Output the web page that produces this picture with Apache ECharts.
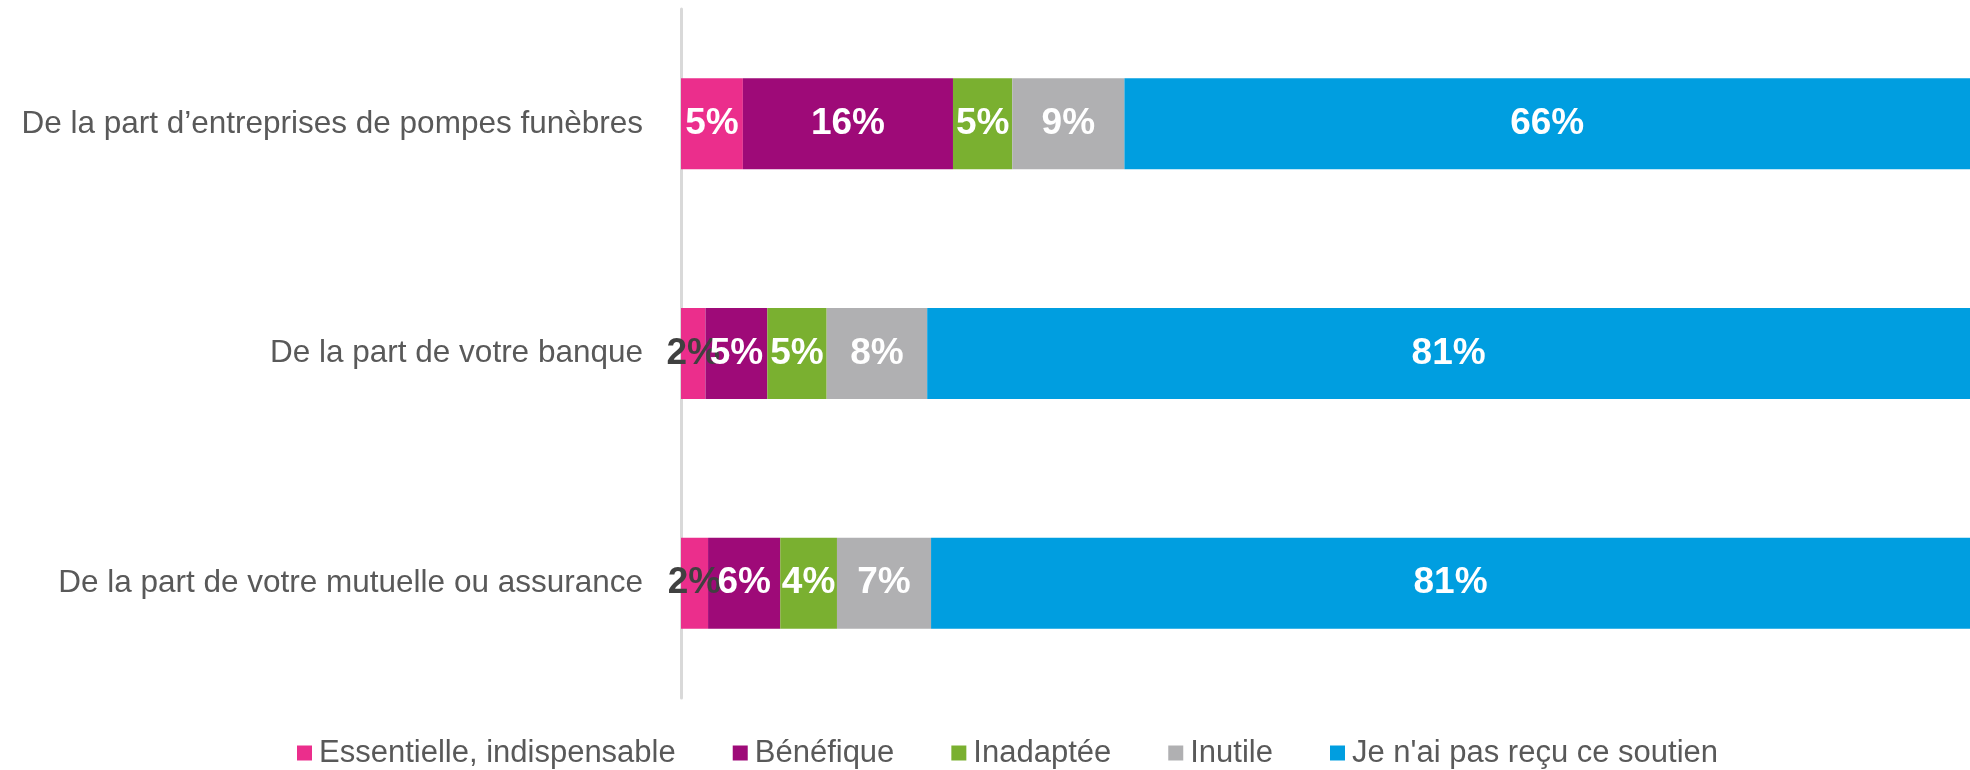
<!DOCTYPE html>
<html>
<head>
<meta charset="utf-8">
<script src="https://cdn.jsdelivr.net/npm/echarts@6/dist/echarts.min.js"></script>
<style>
  html, body { margin: 0; padding: 0; background: #fff; }
  #chart { width: 1970px; height: 770px; }
</style>
</head>
<body>
<div id="chart"></div>
<script>
const categories = [
  'De la part d\u2019entreprises de pompes fun\u00e8bres',
  'De la part de votre banque',
  'De la part de votre mutuelle ou assurance'
]
const seriesNames = ['Essentielle, indispensable', 'B\u00e9n\u00e9fique', 'Inadapt\u00e9e', 'Inutile', 'Je n\'ai pas re\u00e7u ce soutien']
const essentielle = [4.8, 1.9, 2.1]
const benefique = [16.3, 4.8, 5.6]
const inadaptee = [4.6, 4.6, 4.4]
const inutile = [8.7, 7.8, 7.3]
const pasRecu = [65.6, 80.9, 80.6]
const colors = ['#EB2E8C', '#9E0A78', '#7AB030', '#B0B0B2', '#009EE0']

const font = '"Liberation Sans", Arial, sans-serif'

function makeSeries (name, values, color) {
  return {
    name: name,
    type: 'bar',
    stack: 'total',
    barWidth: 91,
    itemStyle: { color: color },
    label: {
      show: true,
      position: 'inside',
      color: '#fff',
      fontFamily: font,
      fontWeight: 'bold',
      fontSize: 37,
      formatter: p => Math.round(p.value) + '%'
    },
    data: values.map(v => v < 3 ? { value: v, label: { color: '#404040' } } : v)
  }
}

const chart = echarts.init(document.getElementById('chart'))
chart.setOption({
  animation: false,
  color: colors,
  grid: { left: 681, right: 0, top: 9, bottom: 72 },
  xAxis: {
    type: 'value',
    min: 0,
    max: 100,
    show: false
  },
  yAxis: {
    type: 'category',
    inverse: true,
    data: categories,
    axisLine: { show: true, lineStyle: { color: '#D9D9D9', width: 3 } },
    axisTick: { show: false },
    axisLabel: { color: '#595959', fontFamily: font, fontSize: 31.5, margin: 38 }
  },
  legend: {
    left: 292,
    top: 732,
    itemWidth: 15,
    itemHeight: 15,
    itemGap: 57,
    icon: 'rect',
    textStyle: { color: '#595959', fontFamily: font, fontSize: 31, lineHeight: 32, padding: [0, 0, 0, 2] },
    data: seriesNames
  },
  series: [
    makeSeries(seriesNames[0], essentielle, colors[0]),
    makeSeries(seriesNames[1], benefique, colors[1]),
    makeSeries(seriesNames[2], inadaptee, colors[2]),
    makeSeries(seriesNames[3], inutile, colors[3]),
    makeSeries(seriesNames[4], pasRecu, colors[4])
  ]
})
</script>
</body>
</html>
